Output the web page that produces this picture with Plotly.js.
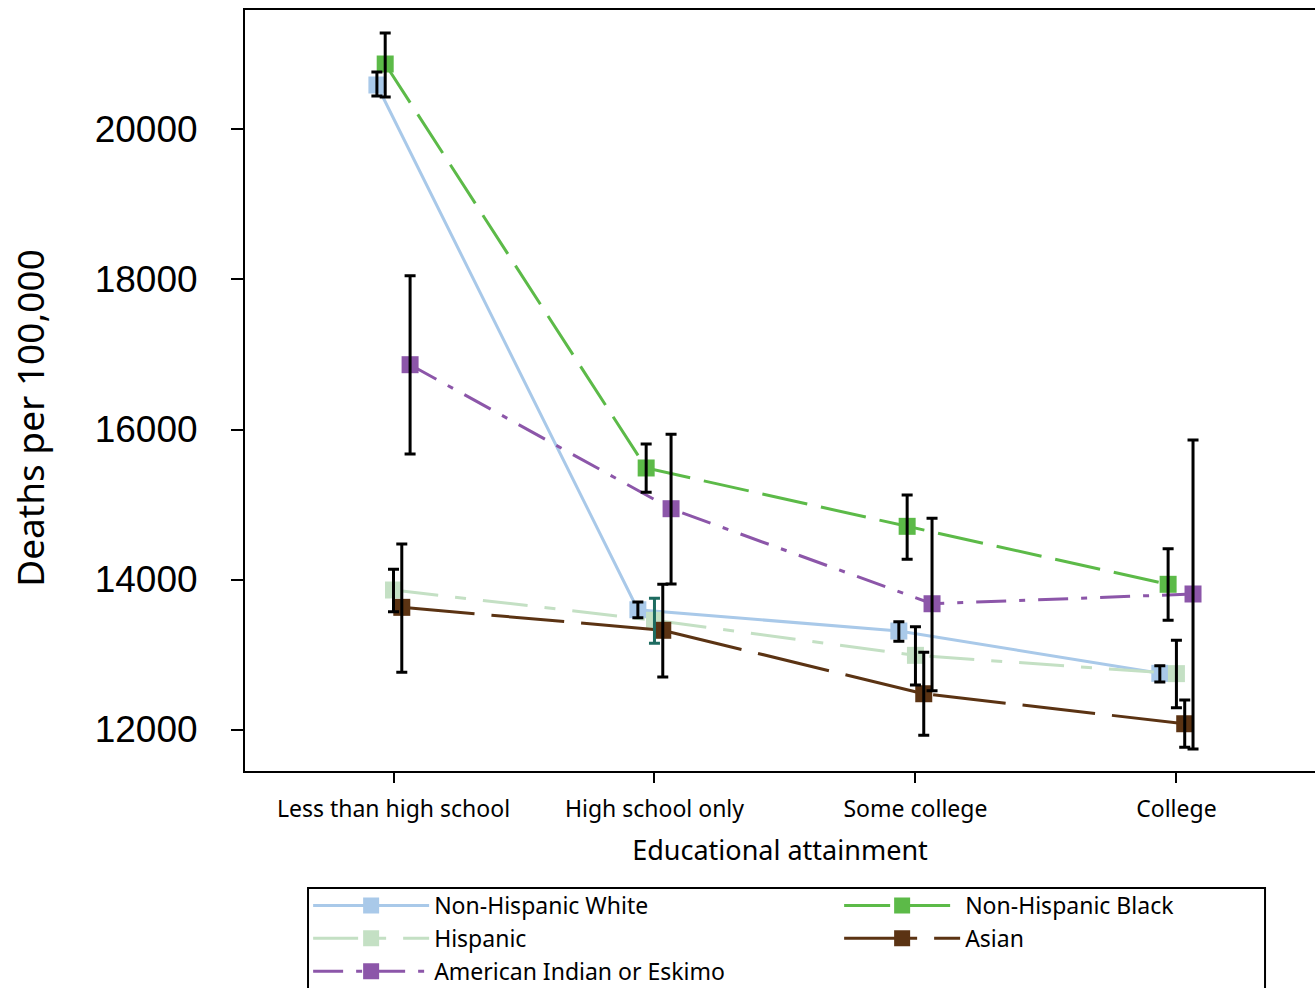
<!DOCTYPE html>
<html>
<head>
<meta charset="utf-8">
<script src="https://cdn.plot.ly/plotly-3.0.1.min.js"></script>
<style>html,body{margin:0;padding:0;background:#fff;}#chart{width:1315px;height:988px;}</style>
</head>
<body>
<div id="chart"></div>
<script>
const categories = ["Less than high school", "High school only", "Some college", "College"];

const seriesNames = ["Non-Hispanic White", "Non-Hispanic Black", "Hispanic", "Asian", "American Indian or Eskimo"];

const whiteVal = [20593, 13597, 13313, 12749];
const whiteLo  = [20447, 13491, 13176, 12633];
const whiteHi  = [20767, 13700, 13437, 12851];

const blackVal = [20873, 15487, 14709, 13936];
const blackLo  = [20433, 15163, 14269, 13456];
const blackHi  = [21287, 15807, 15127, 14411];

const hispVal = [13860, 13456, 12989, 12745];
const hispLo  = [13571, 13149, 12593, 12291];
const hispHi  = [14136, 13749, 13371, 13189];

const asianVal = [13629, 13323, 12477, 12077];
const asianLo  = [12763, 12700, 11923, 11763];
const asianHi  = [14473, 13936, 13029, 12393];

const aianVal = [16864, 14944, 13677, 13807];
const aianLo  = [15673, 13940, 12517, 11740];
const aianHi  = [18051, 15936, 14816, 15860];

const yTicks = [12000, 14000, 16000, 18000, 20000];
const yTitle = "Deaths per 100,000";

const TEXT_FONT = "Noto Sans, sans-serif";
const NUM_FONT = "Liberation Sans, Arial, sans-serif";

const seriesData = [
  {val: whiteVal, lo: whiteLo, hi: whiteHi, color: "#a9c9e9", dash: "solid", dodge: -2},
  {val: blackVal, lo: blackLo, hi: blackHi, color: "#5cba48", dash: "46px,14px", dodge: -1},
  {val: hispVal, lo: hispLo, hi: hispHi, color: "#c4e0c4", dash: "45px,17px,11px,17px", dodge: 0},
  {val: asianVal, lo: asianLo, hi: asianHi, color: "#5b3313", dash: "73px,17px", dodge: 1},
  {val: aianVal, lo: aianLo, hi: aianHi, color: "#8c56a9", dash: "30px,13px,6px,13px", dodge: 2}
];

const step = 0.0318;
const traces = [];
const errTraces = [];

seriesData.forEach((s, k) => {
  const xs = categories.map((c, i) => i + 1 + s.dodge * step);
  traces.push({
    type: "scatter", mode: "lines+markers", name: seriesNames[k],
    x: xs, y: s.val,
    line: {color: s.color, width: 3, dash: s.dash},
    marker: {symbol: "square", size: 17, color: s.color, line: {width: 0}},
    hoverinfo: "skip"
  });
  const groups = (k === 2) ? [[0, 2, 3], [1]] : [[0, 1, 2, 3]];
  groups.forEach((idx, g) => {
    errTraces.push({
      type: "scatter", mode: "markers", showlegend: false, hoverinfo: "skip",
      x: idx.map(i => xs[i]), y: idx.map(i => s.val[i]),
      marker: {size: 1, opacity: 0},
      error_y: {
        type: "data", symmetric: false,
        array: idx.map(i => s.hi[i] - s.val[i]),
        arrayminus: idx.map(i => s.val[i] - s.lo[i]),
        color: (k === 2 && g === 1) ? "#1d6b60" : "#000000",
        thickness: 3, width: 5.5
      }
    });
  });
});

const layout = {
  width: 1315, height: 988,
  paper_bgcolor: "#ffffff", plot_bgcolor: "#ffffff",
  margin: {l: 245, r: 0, t: 10, b: 217, autoexpand: false},
  showlegend: true,
  xaxis: {
    range: [0.431, 4.531], tickmode: "array", tickvals: [1, 2, 3, 4], ticktext: categories,
    showgrid: false, zeroline: false, showline: true, linecolor: "#000", linewidth: 2, mirror: true,
    ticks: "outside", ticklen: 10, tickwidth: 2, tickcolor: "#000",
    tickfont: {family: TEXT_FONT, size: 23, color: "#000"}, ticklabelstandoff: 6,
    title: {text: "Educational attainment", font: {family: TEXT_FONT, size: 27, color: "#000"}, standoff: 19}
  },
  yaxis: {
    range: [11447, 21593], tickmode: "array", tickvals: yTicks, ticktext: yTicks.map(String),
    showgrid: false, zeroline: false, showline: true, linecolor: "#000", linewidth: 2,
    ticks: "outside", ticklen: 12, tickwidth: 2, tickcolor: "#000",
    tickfont: {family: NUM_FONT, size: 37, color: "#000"}, ticklabelstandoff: 26
  },
  annotations: [{
    text: yTitle, xref: "paper", yref: "paper", x: -0.201, y: 0.464,
    xanchor: "center", yanchor: "middle", textangle: -90, showarrow: false,
    font: {family: TEXT_FONT, size: 37, color: "#000"}
  }],
  legend: {
    orientation: "h", x: 0.059, xanchor: "left", y: -0.1485, yanchor: "top",
    entrywidth: 400, entrywidthmode: "pixels",
    borderwidth: 0, bgcolor: "rgba(0,0,0,0)",
    font: {family: TEXT_FONT, size: 23, color: "#000"},
    itemwidth: 116, traceorder: "normal"
  },
  shapes: [{
    type: "rect", xref: "paper", yref: "paper",
    x0: 0.0589, x1: 0.9533, y0: -0.1537, y1: -0.40,
    line: {color: "#000", width: 2}, fillcolor: "rgba(0,0,0,0)", layer: "above"
  }]
};

Plotly.newPlot("chart", traces.concat(errTraces), layout, {displayModeBar: false, staticPlot: true});
</script>
</body>
</html>
